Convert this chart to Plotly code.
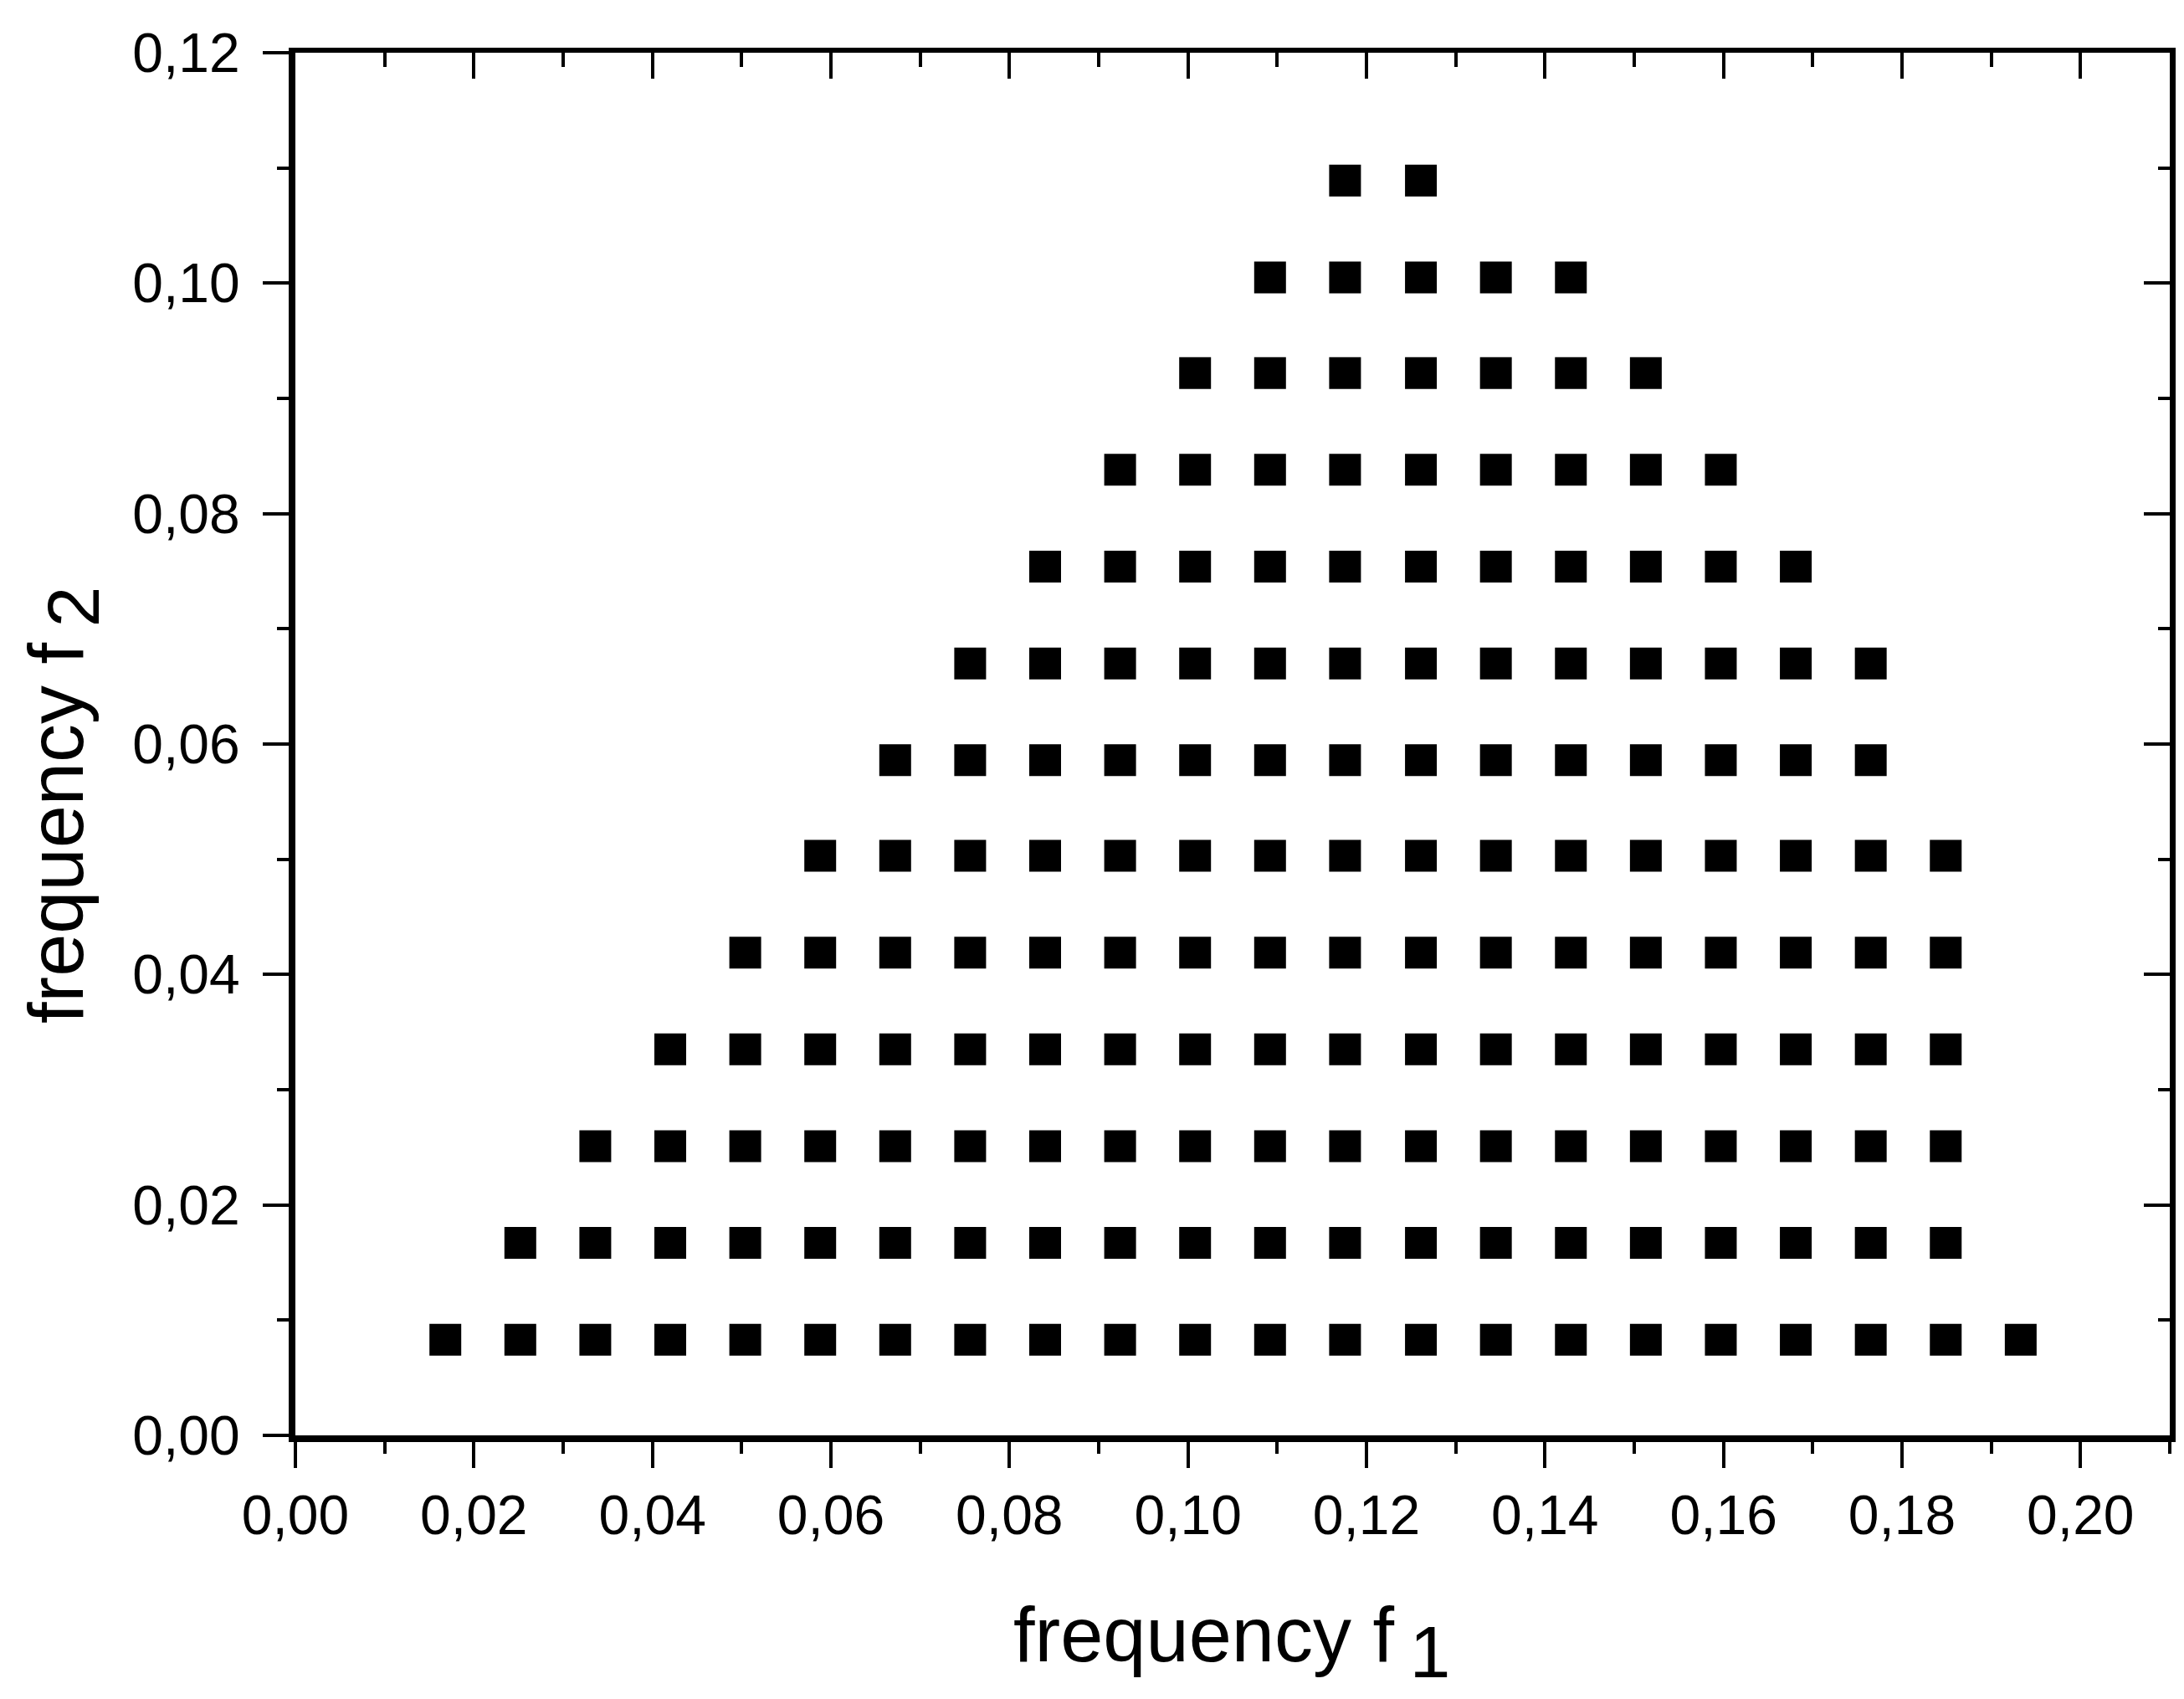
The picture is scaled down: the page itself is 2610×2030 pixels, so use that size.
import plotly.graph_objects as go

# grid of f1 columns and f2 rows
f1_columns = [0.0168, 0.0252, 0.0336, 0.0420, 0.0504, 0.0588, 0.0672, 0.0756,
              0.0840, 0.0924, 0.1008, 0.1092, 0.1176, 0.1261, 0.1345, 0.1429,
              0.1513, 0.1597, 0.1681, 0.1765, 0.1849, 0.1933]
f2_rows = [0.0083, 0.0167, 0.0251, 0.0335, 0.0419, 0.0503, 0.0586,
           0.0670, 0.0754, 0.0838, 0.0922, 0.1005, 0.1089]
# first / last occupied column (index into f1_columns) for every row
row_first_col = [0, 1, 2, 3, 4, 5, 6, 7, 8, 9, 10, 11, 12]
row_last_col = [21, 20, 20, 20, 20, 20, 19, 19, 18, 17, 16, 15, 13]

x_ticks = [0.00, 0.02, 0.04, 0.06, 0.08, 0.10, 0.12, 0.14, 0.16, 0.18, 0.20]
y_ticks = [0.00, 0.02, 0.04, 0.06, 0.08, 0.10, 0.12]

xs, ys = [], []
for row, f2 in enumerate(f2_rows):
    for col in range(row_first_col[row], row_last_col[row] + 1):
        xs.append(f1_columns[col])
        ys.append(f2)

# the page body keeps its 8px margin, so the figure is a bit smaller than the window
W, H = 2594, 2014
L, R, T, B = 345, 9, 55, 307
font = "Liberation Sans, Arial, sans-serif"

fig = go.Figure()
fig.add_trace(go.Scatter(x=xs, y=ys, mode="markers",
                         marker=dict(symbol="square", size=38, color="black",
                                     line=dict(width=0)),
                         showlegend=False))
# same points on the mirror axes so the top/right frame gets drawn
fig.add_trace(go.Scatter(x=xs, y=ys, mode="markers", xaxis="x2", yaxis="y2",
                         marker=dict(symbol="square", size=38, color="black", opacity=0),
                         hoverinfo="skip", showlegend=False))

axis_common = dict(showgrid=False, zeroline=False, color="black", automargin=False,
                   tickcolor="black", tickwidth=4, ticklen=31)

fig.update_layout(
    width=W, height=H,
    margin=dict(l=L, r=R, t=T, b=B),
    paper_bgcolor="white", plot_bgcolor="white",
    separators=", ",
    font=dict(family=font, color="black"),
    xaxis=dict(range=[0, 0.21], tickvals=x_ticks, tickformat=".2f",
               ticks="outside", showline=True, linewidth=8, linecolor="black",
               tickfont=dict(size=66, family=font), ticklabelstandoff=0,
               minor=dict(dtick=0.01, ticks="outside", ticklen=14, tickwidth=4,
                          tickcolor="black"),
               **axis_common),
    yaxis=dict(range=[0, 0.12], tickvals=y_ticks, tickformat=".2f",
               ticks="outside", showline=True, linewidth=8, linecolor="black",
               tickfont=dict(size=66, family=font), ticklabelstandoff=14,
               minor=dict(dtick=0.01, ticks="outside", ticklen=14, tickwidth=4,
                          tickcolor="black"),
               **axis_common),
    xaxis2=dict(range=[0, 0.21], tickvals=x_ticks, overlaying="x", side="top",
                anchor="y", ticks="inside", showline=True, linewidth=6,
                linecolor="black", showticklabels=False,
                minor=dict(dtick=0.01, ticks="inside", ticklen=17, tickwidth=4,
                           tickcolor="black"),
                **axis_common),
    yaxis2=dict(range=[0, 0.12], tickvals=y_ticks, overlaying="y", side="right",
                anchor="x", ticks="inside", showline=True, linewidth=7,
                linecolor="black", showticklabels=False,
                minor=dict(dtick=0.01, ticks="inside", ticklen=14, tickwidth=4,
                           tickcolor="black"),
                **axis_common),
)

plot_w = W - L - R
plot_h = H - T - B
sub = "\u2009<sub><span style='font-size:88px'>{}</span></sub>"
fig.add_annotation(text="frequency f" + sub.format("1"), xref="paper", yref="paper",
                   x=(1464 - L) / plot_w, y=(H - B - 1954) / plot_h,
                   xanchor="center", yanchor="middle", showarrow=False,
                   font=dict(size=92, family=font, color="black"))
fig.add_annotation(text="frequency f" + sub.format("2"), xref="paper", yref="paper",
                   x=(68 - L) / plot_w, y=(H - B - 954) / plot_h,
                   xanchor="center", yanchor="middle", showarrow=False,
                   textangle=-90,
                   font=dict(size=92, family=font, color="black"))

fig.write_html("out.html")
